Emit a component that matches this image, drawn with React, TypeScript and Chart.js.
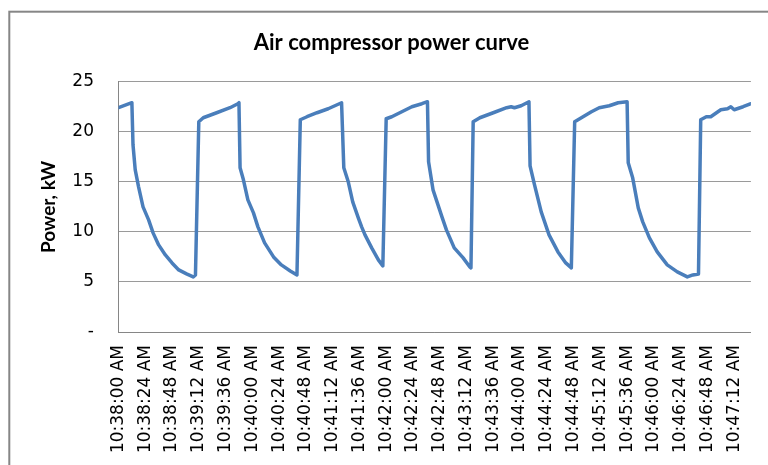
import React, { useEffect, useRef } from 'react';
import { Chart, registerables } from 'chart.js';

Chart.register(...registerables);

const chartTitle = 'Air compressor power curve';
const yAxisTitle = 'Power, kW';

const tickLabels = [
  '10:38:00 AM', '10:38:24 AM', '10:38:48 AM', '10:39:12 AM', '10:39:36 AM', '10:40:00 AM',
  '10:40:24 AM', '10:40:48 AM', '10:41:12 AM', '10:41:36 AM', '10:42:00 AM', '10:42:24 AM',
  '10:42:48 AM', '10:43:12 AM', '10:43:36 AM', '10:44:00 AM', '10:44:24 AM', '10:44:48 AM',
  '10:45:12 AM', '10:45:36 AM', '10:46:00 AM', '10:46:24 AM', '10:46:48 AM', '10:47:12 AM',
];

const yTickValues = [0, 5, 10, 15, 20, 25];

// seconds after 10:38:00 AM
const sampleSeconds = [
  0, 12, 13, 15, 18, 22, 27, 31, 36, 42, 48, 54, 61, 67, 69,
  72, 76, 88, 100, 107, 108, 109, 112, 116, 121, 125, 131, 139, 146, 154, 160,
  163, 169, 178, 188, 192, 200, 202, 206, 210, 215, 218, 221, 227, 233, 237,
  240, 245, 254, 263, 272, 277, 278, 282, 290, 294, 301, 309, 315, 316,
  318, 324, 336, 348, 352, 355, 361, 368, 369, 373, 379, 386, 394, 401, 406,
  409, 415, 424, 431, 440, 448, 456, 457, 461, 466, 470, 476, 483, 492, 501, 510, 515, 520,
  522, 527, 531, 540, 546, 549, 552, 560, 567,
];

const powerKW = [
  22.4, 22.9, 18.7, 16.2, 14.5, 12.5, 11.2, 9.9, 8.7, 7.7, 6.9, 6.2, 5.8, 5.5, 5.7,
  21.0, 21.4, 21.9, 22.4, 22.8, 22.9, 16.4, 15.2, 13.2, 11.9, 10.5, 8.9, 7.5, 6.7, 6.1, 5.7,
  21.2, 21.5, 21.9, 22.3, 22.5, 22.9, 16.4, 15.0, 13.0, 11.4, 10.5, 9.7, 8.4, 7.2, 6.6,
  21.3, 21.5, 22.0, 22.5, 22.8, 23.0, 17.0, 14.2, 11.5, 10.2, 8.4, 7.4, 6.5, 6.4,
  21.0, 21.4, 21.9, 22.4, 22.5, 22.4, 22.6, 23.0, 16.6, 14.7, 12.0, 9.7, 8.0, 6.9, 6.4,
  21.0, 21.4, 22.0, 22.4, 22.6, 22.9, 23.0, 16.9, 15.4, 12.4, 11.0, 9.4, 8.0, 6.7, 6.0, 5.5, 5.7, 5.8,
  21.2, 21.5, 21.5, 22.2, 22.3, 22.5, 22.2, 22.5, 22.8,
];

const toSeconds = (label: string) => {
  const [time, ampm] = label.split(' ');
  const [h, m, s] = time.split(':').map(Number);
  const hh = (h % 12) + (ampm === 'PM' ? 12 : 0);
  return hh * 3600 + m * 60 + s;
};

export default function App() {
  const canvasRef = useRef<HTMLCanvasElement | null>(null);

  useEffect(() => {
    const canvas = canvasRef.current;
    if (!canvas) return;
    const start = toSeconds(tickLabels[0]);
    const tickSeconds = tickLabels.map((l) => toSeconds(l) - start);
    const lastSecond = sampleSeconds[sampleSeconds.length - 1];

    const frame = {
      id: 'excelFrame',
      beforeDraw(chart: any) {
        const ctx = chart.ctx;
        ctx.save();
        ctx.fillStyle = '#ffffff';
        ctx.fillRect(0, 0, chart.width, chart.height);
        ctx.strokeStyle = '#868686';
        ctx.lineWidth = 2;
        ctx.strokeRect(9.3, 11.7, 900, 900);
        ctx.restore();
      },
      afterDraw(chart: any) {
        const ctx = chart.ctx;
        ctx.save();
        ctx.fillStyle = '#000000';
        ctx.font = 'bold 22px Lato';
        ctx.textAlign = 'center';
        ctx.textBaseline = 'middle';
        ctx.fillText(chartTitle, 391.5, 43);
        ctx.restore();
      },
    };

    const chart = new Chart(canvas, {
      type: 'line',
      data: {
        datasets: [
          {
            data: sampleSeconds.map((s, i) => ({ x: s, y: powerKW[i] })),
            borderColor: '#4A7EBB',
            borderWidth: 3.5,
            pointRadius: 0,
            tension: 0,
            borderJoinStyle: 'round',
            borderCapStyle: 'round',
            fill: false,
          },
        ],
      },
      options: {
        animation: false,
        responsive: false,
        devicePixelRatio: 1,
        layout: { padding: { left: 0, right: 16, top: 81.7, bottom: 0 } },
        plugins: {
          legend: { display: false },
          tooltip: { enabled: false },
          title: { display: false },
        },
        scales: {
          x: {
            type: 'linear',
            min: 0,
            max: lastSecond,
            afterBuildTicks: (axis: any) => {
              axis.ticks = tickSeconds.map((v) => ({ value: v }));
            },
            afterFit: (scale: any) => {
              scale.height = 133;
            },
            ticks: {
              autoSkip: false,
              minRotation: 90,
              maxRotation: 90,
              padding: 13,
              color: '#000000',
              font: { family: 'DejaVu Sans', size: 17 },
              callback: (value: any) => {
                const i = tickSeconds.indexOf(Number(value));
                return i >= 0 ? tickLabels[i] : '';
              },
            },
            grid: { display: false, drawTicks: false },
            border: { display: true, color: '#868686', width: 1 },
          },
          y: {
            min: 0,
            max: 25,
            afterBuildTicks: (axis: any) => {
              axis.ticks = yTickValues.map((v) => ({ value: v }));
            },
            afterFit: (scale: any) => {
              scale.width = 118.5;
            },
            ticks: {
              padding: 24.5,
              color: '#000000',
              font: { family: 'DejaVu Sans', size: 17 },
              callback: (value: any) => (Number(value) === 0 ? '-' : String(value)),
            },
            grid: { color: '#9a9a9a', lineWidth: 1, drawTicks: false },
            border: { display: true, color: '#868686', width: 1 },
            title: {
              display: true,
              text: yAxisTitle,
              color: '#000000',
              font: { family: 'Lato', weight: 'bold', size: 19 },
              padding: { top: 37.6, bottom: 0 },
            },
          },
        },
      },
      plugins: [frame],
    } as any);

    return () => {
      chart.destroy();
    };
  }, []);

  return (
    <div
      style={{
        position: 'fixed',
        left: 0,
        top: 0,
        width: 768,
        height: 465,
        overflow: 'hidden',
        background: '#ffffff',
      }}
    >
      <canvas ref={canvasRef} width={768} height={465} style={{ display: 'block', width: 768, height: 465 }} />
    </div>
  );
}
